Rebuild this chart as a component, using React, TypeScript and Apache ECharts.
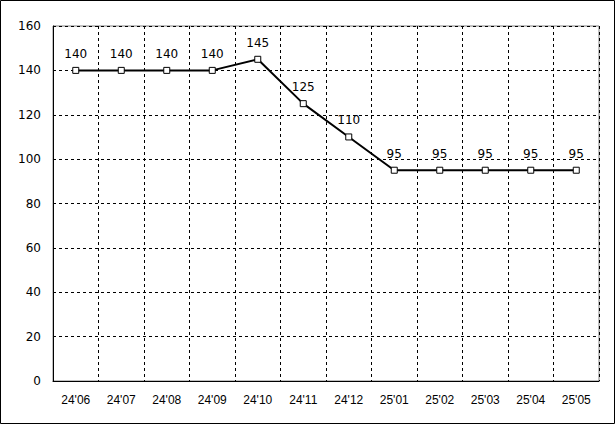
import React, { useEffect, useRef } from "react";
import * as echarts from "echarts";

const categories = ["24'06", "24'07", "24'08", "24'09", "24'10", "24'11", "24'12", "25'01", "25'02", "25'03", "25'04", "25'05"];
const values = [140, 140, 140, 140, 145, 125, 110, 95, 95, 95, 95, 95];
const yMin = 0;
const yMax = 160;
const yStep = 20;

const FONT_X = "'Liberation Sans', Arial, sans-serif";
const FONT_Y = "'DejaVu Sans', sans-serif";

export default function App() {
  const ref = useRef<HTMLDivElement>(null);
  useEffect(() => {
    if (!ref.current) return;
    const chart = echarts.init(ref.current, undefined, { renderer: "svg" });
    chart.setOption({
      animation: false,
      backgroundColor: "#fff",
      textStyle: { fontFamily: FONT_X },
      grid: {
        left: 53,
        right: 16,
        top: 26,
        bottom: 43,
        show: true,
        borderColor: "#808080",
        borderWidth: 1,
        backgroundColor: "transparent",
      },
      graphic: [
        {
          type: "rect",
          shape: { x: 0.5, y: 0.5, width: 614, height: 423 },
          style: { fill: "none", stroke: "#000", lineWidth: 1 },
          silent: true,
          z: 100,
        },
      ],
      xAxis: {
        type: "category",
        data: categories,
        boundaryGap: true,
        axisLine: { show: true, lineStyle: { color: "#000", width: 1 } },
        axisTick: { show: false },
        axisLabel: { color: "#000", fontSize: 12, fontFamily: FONT_X, margin: 13, interval: 0 },
        splitLine: { show: true, interval: 0, lineStyle: { color: "#000", type: [3, 3], width: 1 } },
      },
      yAxis: {
        type: "value",
        min: yMin,
        max: yMax,
        interval: yStep,
        axisLine: { show: true, lineStyle: { color: "#000", width: 1 } },
        axisTick: { show: false },
        axisLabel: { color: "#000", fontSize: 12, fontFamily: FONT_Y, margin: 12, padding: [4, 0, 0, 0] },
        splitLine: { show: true, lineStyle: { color: "#000", type: [3, 3], width: 1 } },
      },
      series: [
        {
          type: "line",
          data: values,
          symbol: "rect",
          symbolSize: 6,
          lineStyle: { color: "#000", width: 2 },
          itemStyle: { color: "#fff", borderColor: "#000", borderWidth: 1 },
          label: {
            show: true,
            position: "top",
            distance: 7,
            color: "#000",
            fontSize: 12,
            fontFamily: FONT_Y,
          },
          z: 5,
        },
      ],
    });
    return () => chart.dispose();
  }, []);
  return (
    <div
      ref={ref}
      style={{ position: "absolute", left: 0, top: 0, width: 615, height: 424 }}
    />
  );
}
